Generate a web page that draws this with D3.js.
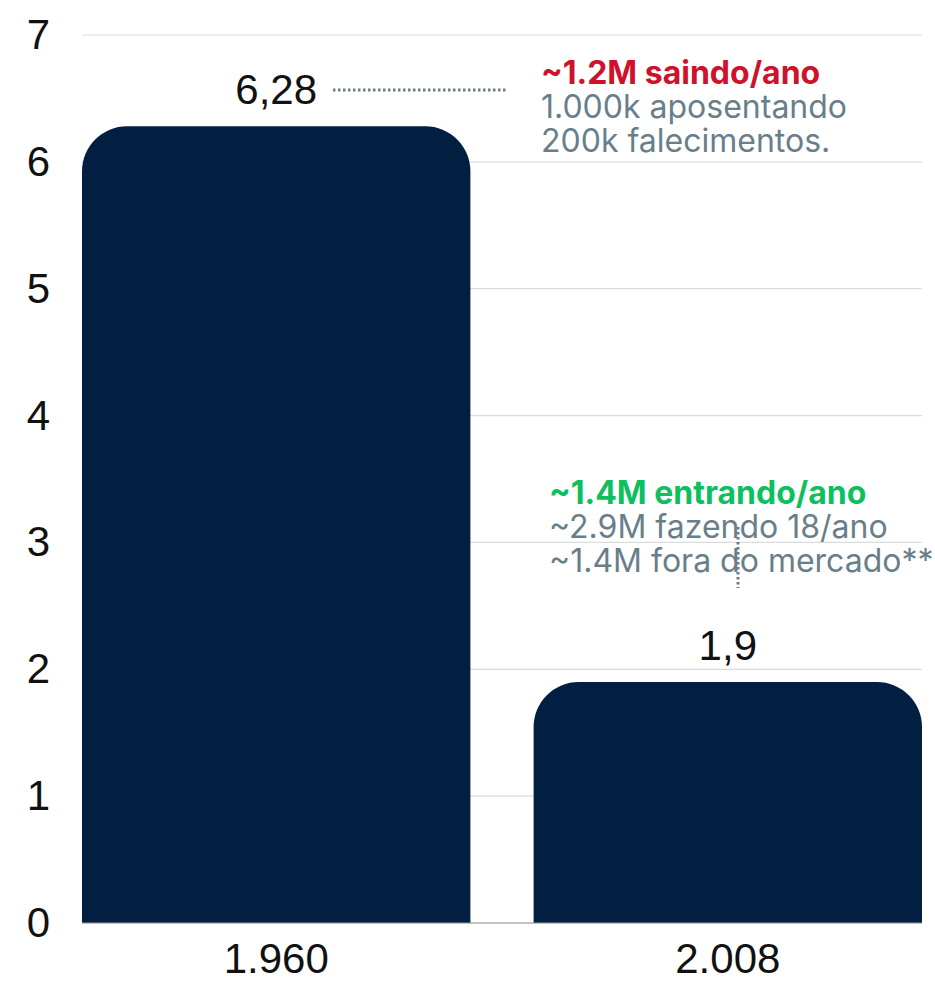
<!DOCTYPE html>
<html>
<head>
<meta charset="utf-8">
<script src="https://cdn.jsdelivr.net/npm/d3@7"></script>
<style>
  html, body { margin: 0; padding: 0; background: #ffffff; }
  svg { display: block; }
</style>
</head>
<body>
<svg id="chart" width="935" height="982"></svg>
<script>
// Data
const years = ["1.960", "2.008"];
const ratios = [6.28, 1.9];
const valueLabels = ["6,28", "1,9"];
const yTicks = [0, 1, 2, 3, 4, 5, 6, 7];

const outgoingLines = ["~1.2M saindo/ano", "1.000k aposentando", "200k falecimentos."];
const incomingLines = ["~1.4M entrando/ano", "~2.9M fazendo 18/ano", "~1.4M fora do mercado**"];

const W = 935, H = 982;
const margin = { top: 35, right: 13, bottom: 59, left: 82 };
const innerW = W - margin.left - margin.right;
const innerH = H - margin.top - margin.bottom;

const navy = "#021e41";
const gray = "#687f8b";
const red = "#d0112b";
const green = "#0dbf5e";
const axisFont = "'Liberation Sans', Arial, sans-serif";
const noteFont = "Inter, 'Noto Sans', sans-serif";

const svg = d3.select("#chart");
const g = svg.append("g").attr("transform", `translate(${margin.left},${margin.top})`);

const x = d3.scaleBand().domain(years).range([0, innerW]).paddingInner(0.14).paddingOuter(0);
const y = d3.scaleLinear().domain([0, 7]).range([innerH, 0]);

// Horizontal gridlines
g.append("g")
  .selectAll("line")
  .data(yTicks)
  .join("line")
  .attr("x1", 0).attr("x2", innerW)
  .attr("y1", d => y(d)).attr("y2", d => y(d))
  .attr("stroke", "#dcdcdc")
  .attr("stroke-width", 1.2);

// Y axis labels
const yAxis = g.append("g")
  .call(d3.axisLeft(y).tickValues(yTicks).tickSize(0).tickPadding(32).tickFormat(d3.format("d")));
yAxis.select(".domain").remove();
yAxis.selectAll("text")
  .attr("font-family", axisFont)
  .attr("font-size", 42)
  .attr("fill", "#111");

// Bars with rounded top corners
function topRoundedBar(x0, y0, w, h, r) {
  r = Math.min(r, w / 2, h);
  return `M${x0},${y0 + h}V${y0 + r}` +
    `A${r},${r} 0 0 1 ${x0 + r},${y0}` +
    `H${x0 + w - r}` +
    `A${r},${r} 0 0 1 ${x0 + w},${y0 + r}` +
    `V${y0 + h}Z`;
}

const bars = years.map((yr, i) => ({ year: yr, value: ratios[i], label: valueLabels[i] }));

g.append("g")
  .selectAll("path")
  .data(bars)
  .join("path")
  .attr("d", d => topRoundedBar(x(d.year), y(d.value), x.bandwidth(), y(0) - y(d.value), 45))
  .attr("fill", navy);

// Value labels
g.append("g")
  .selectAll("text")
  .data(bars)
  .join("text")
  .attr("x", d => x(d.year) + x.bandwidth() / 2)
  .attr("y", d => y(d.value) - 22)
  .attr("text-anchor", "middle")
  .attr("font-family", axisFont)
  .attr("font-size", 42)
  .attr("fill", "#111")
  .text(d => d.label);

// X axis labels
const xAxis = g.append("g")
  .attr("transform", `translate(0,${innerH})`)
  .call(d3.axisBottom(x).tickSize(0).tickPadding(20));
xAxis.select(".domain").remove();
xAxis.selectAll("text")
  .attr("font-family", axisFont)
  .attr("font-size", 42)
  .attr("fill", "#111");

// Baseline between bars
g.append("line")
  .attr("x1", 0).attr("x2", innerW)
  .attr("y1", y(0)).attr("y2", y(0))
  .attr("stroke", "#999").attr("stroke-width", 1);

// Annotation: outflow
const noteA = svg.append("g");
noteA.append("line")
  .attr("x1", 333).attr("x2", 507)
  .attr("y1", 90).attr("y2", 90)
  .attr("stroke", gray).attr("stroke-width", 3)
  .attr("stroke-dasharray", "2.5,2.5");
noteA.selectAll("text")
  .data(outgoingLines)
  .join("text")
  .attr("x", 541)
  .attr("y", (d, i) => 84 + i * 34)
  .attr("font-family", noteFont)
  .attr("font-size", 32)
  .attr("font-weight", (d, i) => i === 0 ? 700 : 400)
  .attr("fill", (d, i) => i === 0 ? red : gray)
  .text(d => d);

// Annotation: inflow
const noteB = svg.append("g");
noteB.selectAll("text")
  .data(incomingLines)
  .join("text")
  .attr("x", 549)
  .attr("y", (d, i) => 504 + i * 34)
  .attr("font-family", noteFont)
  .attr("font-size", 32)
  .attr("font-weight", (d, i) => i === 0 ? 700 : 400)
  .attr("fill", (d, i) => i === 0 ? green : gray)
  .text(d => d);
noteB.append("line")
  .attr("x1", 738).attr("x2", 738)
  .attr("y1", 527).attr("y2", 588)
  .attr("stroke", gray).attr("stroke-width", 3)
  .attr("stroke-dasharray", "2.5,2.5");
</script>
</body>
</html>
